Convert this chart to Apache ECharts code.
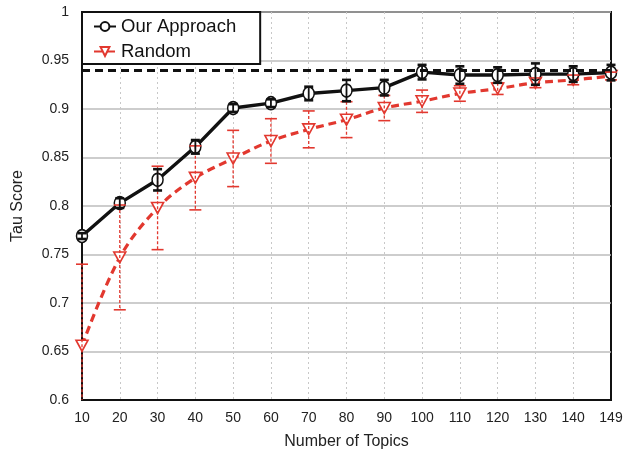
<!DOCTYPE html>
<html>
<head>
<meta charset="utf-8">
<script src="https://cdn.jsdelivr.net/npm/echarts@6/dist/echarts.min.js"></script>
<style>
  html, body { margin: 0; padding: 0; background: #fff; }
  #chart { width: 641px; height: 457px; }
</style>
</head>
<body>
<div id="chart"></div>
<script>
// Number of topics on the x axis
const categories = ['10', '20', '30', '40', '50', '60', '70', '80', '90', '100', '110', '120', '130', '140', '149'];

// Tau score of our approach, with its error half-widths
const ourApproach    = [0.769, 0.803, 0.827, 0.861, 0.901, 0.906, 0.916, 0.919, 0.922, 0.938, 0.935, 0.935, 0.936, 0.936, 0.9375];
const ourApproachErr = [0.003, 0.005, 0.011, 0.007, 0.004, 0.004, 0.007, 0.011, 0.008, 0.0075, 0.009, 0.008, 0.011, 0.008, 0.008];

// Tau score of the random baseline, with its error half-widths
const random    = [0.656, 0.747, 0.798, 0.829, 0.849, 0.867, 0.879, 0.889, 0.901, 0.908, 0.916, 0.921, 0.927, 0.930, 0.934];
const randomErr = [0.084, 0.054, 0.043, 0.033, 0.029, 0.023, 0.019, 0.0185, 0.013, 0.0115, 0.008, 0.006, 0.005, 0.005, 0.004];

// Reference level drawn as a dashed horizontal line
const referenceLevel = 0.938;

const FONT = "'Liberation Sans', Arial, Helvetica, sans-serif";
const RED = '#e2382f';
const TRIANGLE_DOWN = 'path://M0,0 L12,0 L6,10.4 Z';

function errorRows(values, errs) {
  return values.map((v, i) => [i, v - errs[i], v + errs[i]]);
}

// Vertical error bar with horizontal caps, clipped to the plot area
function errorBarRenderer(color, dashed, capHalf, lineWidth, capWidth) {
  return function (params, api) {
    const cs = params.coordSys;
    const idx = api.value(0);
    const top = api.coord([idx, api.value(2)]);
    const bot = api.coord([idx, api.value(1)]);
    const yTop = Math.max(top[1], cs.y);
    const yBot = Math.min(bot[1], cs.y + cs.height);
    const x = top[0];
    const children = [{
      type: 'line',
      shape: { x1: x, y1: yTop, x2: x, y2: yBot },
      style: { stroke: color, lineWidth: lineWidth, lineDash: dashed ? [3, 2] : null }
    }];
    if (top[1] >= cs.y) {
      children.push({
        type: 'line',
        shape: { x1: x - capHalf, y1: yTop, x2: x + capHalf, y2: yTop },
        style: { stroke: color, lineWidth: capWidth }
      });
    }
    if (bot[1] <= cs.y + cs.height) {
      children.push({
        type: 'line',
        shape: { x1: x - capHalf, y1: yBot, x2: x + capHalf, y2: yBot },
        style: { stroke: color, lineWidth: capWidth }
      });
    }
    return { type: 'group', children: children };
  };
}

const chart = echarts.init(document.getElementById('chart'), null, { renderer: 'canvas' });

chart.setOption({
  animation: false,
  backgroundColor: '#fff',
  textStyle: { fontFamily: FONT },
  grid: {
    left: 82, right: 30, top: 12, bottom: 57,
    show: true, borderColor: '#111', borderWidth: 2, backgroundColor: 'transparent'
  },
  legend: {
    left: 82, top: 12,
    orient: 'vertical',
    backgroundColor: '#fff',
    borderColor: '#111',
    borderWidth: 2,
    borderRadius: 0,
    padding: [5, 24, 3, 11],
    itemGap: 6,
    itemWidth: 22,
    itemHeight: 11,
    textStyle: { fontSize: 18.5, color: '#111', fontFamily: FONT },
    data: ['Our Approach', 'Random']
  },
  xAxis: {
    type: 'category',
    data: categories,
    boundaryGap: false,
    name: 'Number of Topics',
    nameLocation: 'middle',
    nameGap: 34,
    nameTextStyle: { fontSize: 16, color: '#222', fontFamily: FONT },
    axisLine: { lineStyle: { color: '#111', width: 2 } },
    axisTick: { show: false },
    axisLabel: { fontSize: 14, color: '#222', margin: 11, fontFamily: FONT, interval: 0 },
    splitLine: {
      show: true,
      interval: (idx) => idx !== 0 && idx !== categories.length - 1,
      lineStyle: { color: '#c8c8c8', width: 1, type: [2, 3] }
    }
  },
  yAxis: {
    type: 'value',
    min: 0.6, max: 1, interval: 0.05,
    name: 'Tau Score',
    nameLocation: 'middle',
    nameGap: 56,
    nameTextStyle: { fontSize: 16, color: '#222', fontFamily: FONT },
    axisLine: { show: true, lineStyle: { color: '#111', width: 2 } },
    axisTick: { show: false },
    axisLabel: {
      fontSize: 14, color: '#222', margin: 13, fontFamily: FONT,
      formatter: v => String(parseFloat(v.toFixed(2)))
    },
    splitLine: { show: true, lineStyle: { color: '#bdbdbd', width: 1.5 } }
  },
  series: [
    {
      name: 'Random',
      type: 'line',
      data: random,
      smooth: 0.35,
      z: 3,
      symbol: TRIANGLE_DOWN,
      symbolSize: [12, 11],
      itemStyle: { color: '#fff', borderColor: RED, borderWidth: 1.6 },
      lineStyle: { color: RED, width: 3.2, type: [8, 5] }
    },
    {
      name: 'Our Approach',
      type: 'line',
      data: ourApproach,
      z: 4,
      symbol: 'circle',
      symbolSize: [11, 13],
      itemStyle: { color: '#fff', borderColor: '#111', borderWidth: 1.6 },
      lineStyle: { color: '#111', width: 3.4 },
      markLine: {
        silent: true,
        symbol: 'none',
        label: { show: false },
        lineStyle: { color: '#111', width: 3, type: [8, 5] },
        data: [{ yAxis: referenceLevel }]
      }
    },
    {
      name: 'Random error',
      type: 'custom',
      z: 5,
      renderItem: errorBarRenderer(RED, true, 6, 1.3, 1.6),
      encode: { x: 0, y: [1, 2] },
      data: errorRows(random, randomErr)
    },
    {
      name: 'Our Approach error',
      type: 'custom',
      z: 6,
      renderItem: errorBarRenderer('#111', false, 4.5, 1.8, 2.6),
      encode: { x: 0, y: [1, 2] },
      data: errorRows(ourApproach, ourApproachErr)
    }
  ]
});
</script>
</body>
</html>
